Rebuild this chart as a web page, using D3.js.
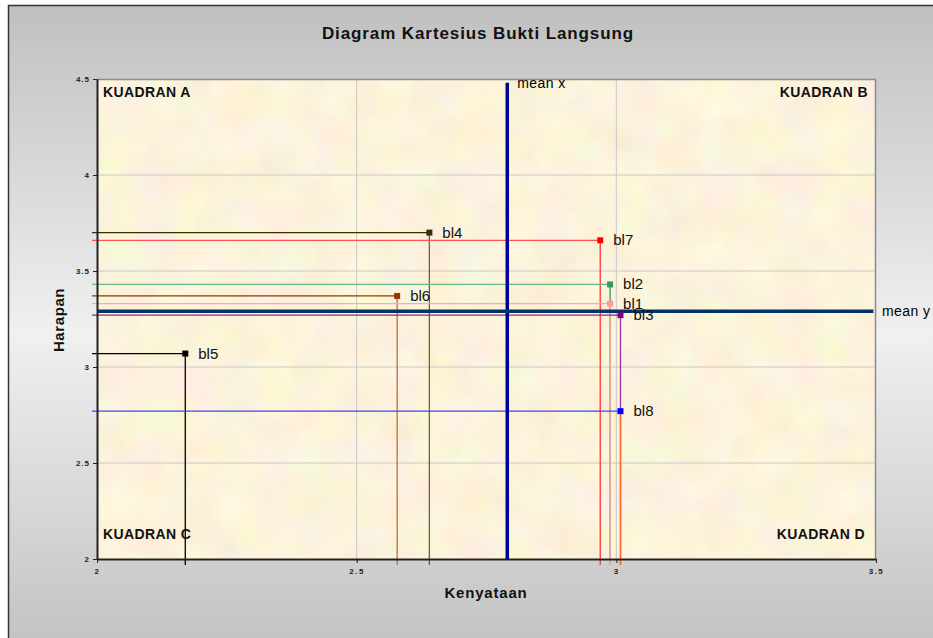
<!DOCTYPE html>
<html>
<head>
<meta charset="utf-8">
<script src="https://cdn.jsdelivr.net/npm/d3@7"></script>
<style>
  body { margin: 0; background: #fff; }
  svg { display: block; font-family: Arial, "Liberation Sans", sans-serif; }
</style>
</head>
<body>
<div id="chart"><svg></svg></div>
<script>
// data
const labels = ['bl1', 'bl2', 'bl3', 'bl4', 'bl5', 'bl6', 'bl7', 'bl8']
const kenyataan = [2.988, 2.988, 3.008, 2.64, 2.17, 2.578, 2.969, 3.008]
const harapan = [3.33, 3.43, 3.27, 3.70, 3.07, 3.37, 3.66, 2.77]
const markerColors = ['#ff9999', '#339966', '#800080', '#333300', '#000000', '#993300', '#ff0000', '#0000ff']
const hLineColors = ['#ffa8a8', '#66bb88', '#8a2a8a', '#333300', '#000000', '#993300', '#ff5050', '#4040ff']
const vLineColors = ['#ffb0a0', '#339966', '#9933aa', '#666633', '#000000', '#cc6633', '#ff3333', '#ff6633']
const meanX = 2.79
const meanY = 3.29
const xTicks = [2, 2.5, 3, 3.5]
const yTicks = [2, 2.5, 3, 3.5, 4, 4.5]

const W = 933, H = 638
const margin = { top: 79, left: 97, right: 57, bottom: 79 }
const width = W - margin.left - margin.right
const height = H - margin.top - margin.bottom

const svg = d3.select('#chart svg').attr('width', W).attr('height', H)
const defs = svg.append('defs')

const bg = defs.append('linearGradient').attr('id', 'bgGrad')
  .attr('x1', 0).attr('y1', 0).attr('x2', 0).attr('y2', 1)
bg.append('stop').attr('offset', '0%').attr('stop-color', '#c0c0c0')
bg.append('stop').attr('offset', '50%').attr('stop-color', '#f0f0f0')
bg.append('stop').attr('offset', '100%').attr('stop-color', '#c0c0c0')

// parchment look for the plot area
const f = defs.append('filter').attr('id', 'paper')
  .attr('x', 0).attr('y', 0).attr('width', '100%').attr('height', '100%')
  .attr('color-interpolation-filters', 'sRGB')
f.append('feTurbulence').attr('type', 'fractalNoise')
  .attr('baseFrequency', 0.025).attr('numOctaves', 3).attr('seed', 4)
f.append('feColorMatrix').attr('type', 'matrix')
  .attr('values', '0.06 0 0 0 0.958  0 0.08 0 0 0.912  0 0 0.12 0 0.8  0 0 0 0 1')

// chart area
svg.append('rect')
  .attr('x', 8.5).attr('y', 5.5)
  .attr('width', W + 20).attr('height', H + 20)
  .attr('fill', 'url(#bgGrad)')
  .attr('stroke', '#333').attr('stroke-width', 1.5)

const x = d3.scaleLinear().domain([2, 3.5]).range([0, width])
const y = d3.scaleLinear().domain([2, 4.5]).range([height, 0])

const g = svg.append('g')
  .attr('transform', 'translate(' + margin.left + ',' + margin.top + ')')

g.append('rect') // plot area
  .attr('width', width).attr('height', height)
  .attr('filter', 'url(#paper)')

g.append('g') // gridlines
  .selectAll('line')
  .data(yTicks.slice(1, -1))
  .enter()
  .append('line')
  .attr('x1', 0).attr('x2', width)
  .attr('y1', d => y(d)).attr('y2', d => y(d))
  .attr('stroke', '#c8c8c8').attr('stroke-width', 1)
g.append('g')
  .selectAll('line')
  .data(xTicks.slice(1, -1))
  .enter()
  .append('line')
  .attr('y1', 0).attr('y2', height)
  .attr('x1', d => x(d)).attr('x2', d => x(d))
  .attr('stroke', '#c8c8c8').attr('stroke-width', 1)

// plot border top/right
g.append('path')
  .attr('d', 'M0,0.5H' + (width - 0.5) + 'V' + height)
  .attr('fill', 'none').attr('stroke', '#8c8c8c').attr('stroke-width', 1.5)

// drop lines
const pts = labels.map((l, i) => ({ label: l, x: kenyataan[i], y: harapan[i], i: i }))
const drawOrder = [4, 3, 5, 6, 1, 0, 2, 7]

drawOrder.forEach(i => {
  const d = pts[i]
  g.append('line')
    .attr('x1', -5).attr('x2', x(d.x))
    .attr('y1', y(d.y)).attr('y2', y(d.y))
    .attr('stroke', hLineColors[i]).attr('stroke-width', 1.3)
  g.append('line')
    .attr('x1', x(d.x)).attr('x2', x(d.x))
    .attr('y1', y(d.y)).attr('y2', height + 6)
    .attr('stroke', vLineColors[i]).attr('stroke-width', 1.3)
})

// mean lines
g.append('line')
  .attr('x1', x(meanX)).attr('x2', x(meanX))
  .attr('y1', y(4.48)).attr('y2', height)
  .attr('stroke', '#000099').attr('stroke-width', 3.5)
g.append('line')
  .attr('x1', 0).attr('x2', x(3.495))
  .attr('y1', y(meanY)).attr('y2', y(meanY))
  .attr('stroke', '#003366').attr('stroke-width', 3.5)

g.append('text')
  .attr('x', x(meanX) + 10).attr('y', y(4.48) + 5)
  .attr('font-size', '14px').attr('letter-spacing', '0.4px').attr('fill', '#000')
  .text('mean x')
g.append('text')
  .attr('x', x(3.5) + 6).attr('y', y(meanY) + 5)
  .attr('font-size', '14px').attr('letter-spacing', '0.4px').attr('fill', '#000')
  .text('mean y')

// markers
g.append('g')
  .selectAll('rect')
  .data(drawOrder.map(i => pts[i]))
  .enter()
  .append('rect')
  .attr('x', d => x(d.x) - 3).attr('y', d => y(d.y) - 3)
  .attr('width', 6).attr('height', 6)
  .attr('fill', d => markerColors[d.i])

g.append('g')
  .selectAll('text')
  .data(pts)
  .enter()
  .append('text')
  .attr('x', d => x(d.x) + 13).attr('y', d => y(d.y) + 5)
  .attr('font-size', '15px').attr('fill', '#111')
  .text(d => d.label)

// axes
const yAxis = g.append('g')
  .call(d3.axisLeft(y).tickValues(yTicks).tickSize(4).tickSizeOuter(0).tickFormat(d3.format('')))
yAxis.select('.domain').attr('stroke', '#222').attr('stroke-width', 2)
yAxis.selectAll('.tick line').attr('stroke', '#222')
yAxis.selectAll('.tick text')
  .attr('font-size', '8px').attr('font-weight', 'bold').attr('letter-spacing', '1px')
  .attr('fill', '#222').attr('x', -7)

const xAxis = g.append('g')
  .attr('transform', 'translate(0,' + height + ')')
  .call(d3.axisBottom(x).tickValues(xTicks).tickSize(4).tickSizeOuter(0).tickFormat(d3.format('')))
xAxis.select('.domain').attr('stroke', '#222').attr('stroke-width', 2)
xAxis.selectAll('.tick line').attr('stroke', '#222')
xAxis.selectAll('.tick text')
  .attr('font-size', '8px').attr('font-weight', 'bold').attr('letter-spacing', '1.5px')
  .attr('fill', '#222').attr('y', 9)

// quadrant labels
const quad = [
  { t: 'KUADRAN A', x: 6, y: 18, a: 'start' },
  { t: 'KUADRAN B', x: width - 8, y: 18, a: 'end' },
  { t: 'KUADRAN C', x: 6, y: height - 20, a: 'start' },
  { t: 'KUADRAN D', x: width - 11, y: height - 20, a: 'end' }
]
g.append('g')
  .selectAll('text')
  .data(quad)
  .enter()
  .append('text')
  .attr('x', d => d.x).attr('y', d => d.y)
  .attr('text-anchor', d => d.a)
  .attr('font-size', '14px').attr('font-weight', 'bold').attr('letter-spacing', '0.4px')
  .attr('fill', '#111')
  .text(d => d.t)

// titles
svg.append('text')
  .attr('x', 478).attr('y', 39)
  .attr('text-anchor', 'middle')
  .attr('font-size', '17px').attr('font-weight', 'bold').attr('letter-spacing', '0.9px')
  .attr('fill', '#111')
  .text('Diagram Kartesius Bukti Langsung')
svg.append('text')
  .attr('x', 486).attr('y', 598)
  .attr('text-anchor', 'middle')
  .attr('font-size', '15px').attr('font-weight', 'bold').attr('letter-spacing', '0.8px')
  .attr('fill', '#111')
  .text('Kenyataan')
svg.append('text')
  .attr('transform', 'translate(64,320) rotate(-90)')
  .attr('text-anchor', 'middle')
  .attr('font-size', '15px').attr('font-weight', 'bold').attr('letter-spacing', '0.6px')
  .attr('fill', '#111')
  .text('Harapan')
</script>
</body>
</html>
